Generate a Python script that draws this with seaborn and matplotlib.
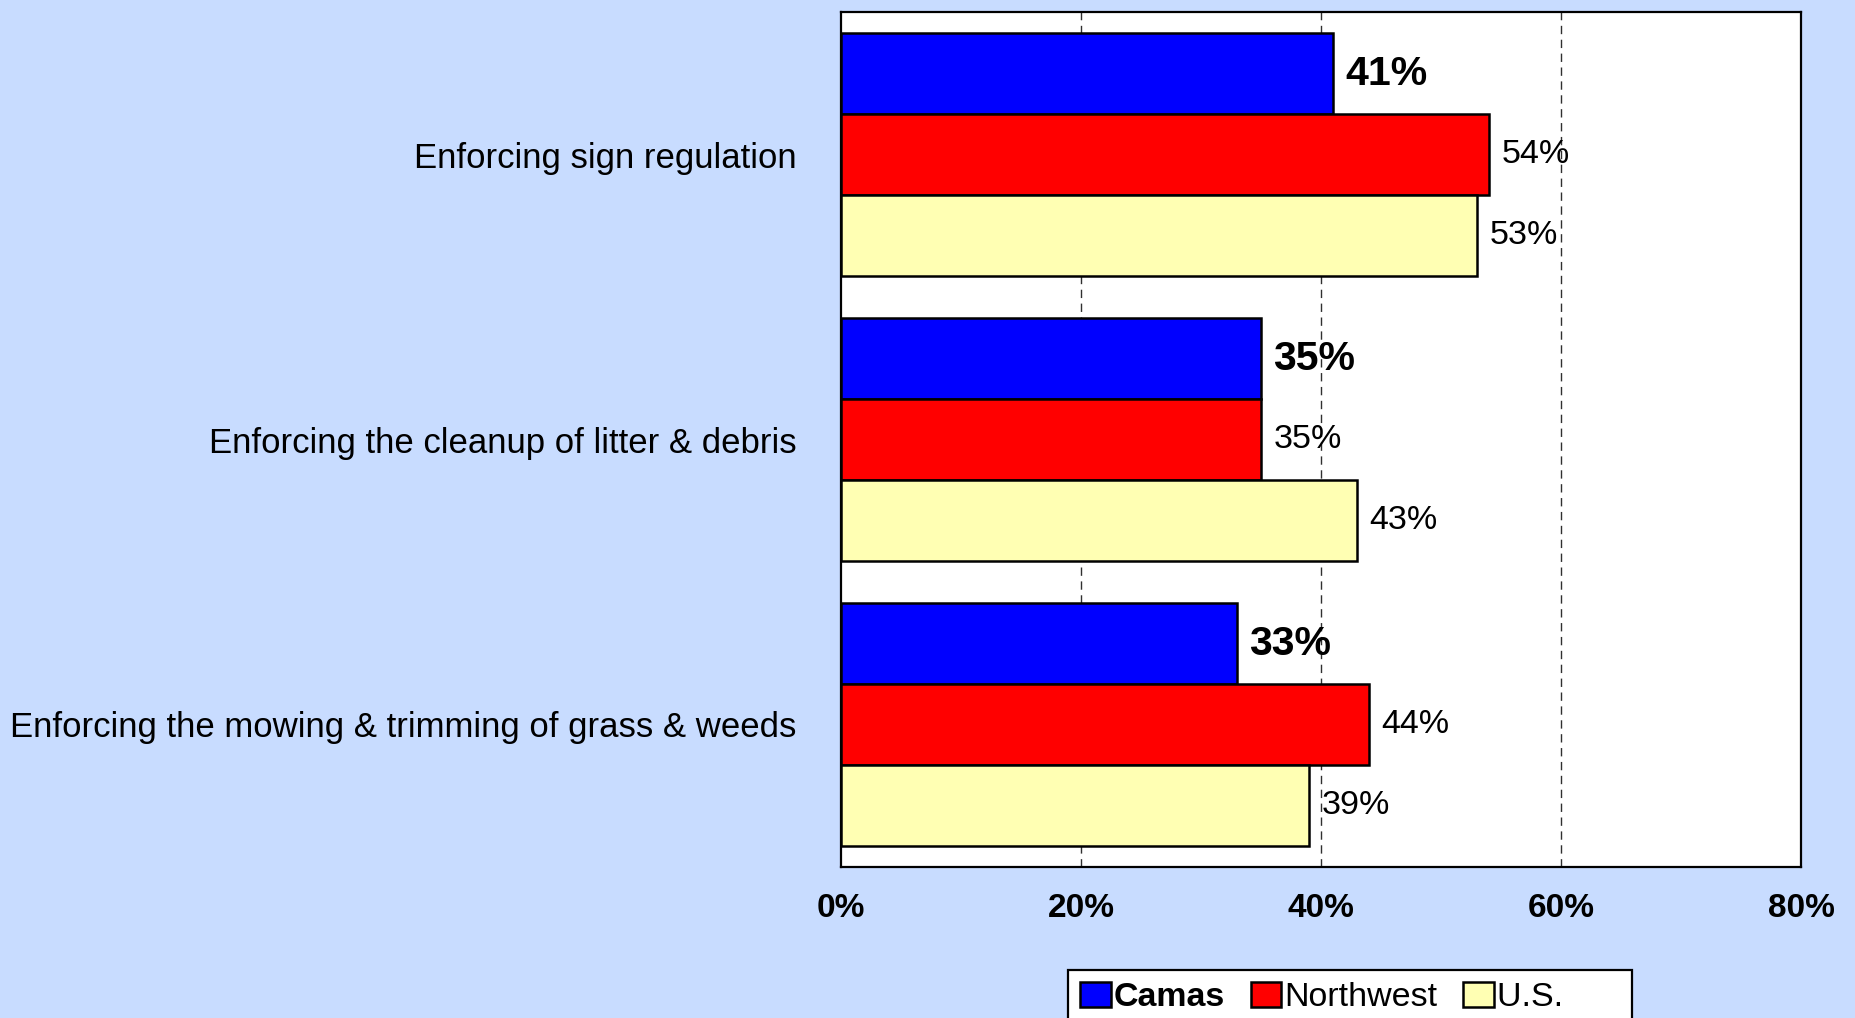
import matplotlib
matplotlib.use("Agg")
import matplotlib.pyplot as plt
import seaborn as sns
import pandas as pd

categories = ["Enforcing sign regulation",
              "Enforcing the cleanup of litter & debris",
              "Enforcing the mowing & trimming of grass & weeds"]
series_names = ["Camas", "Northwest", "U.S."]
camas = [41, 35, 33]
northwest = [54, 35, 44]
us = [53, 43, 39]
xticks = [0, 20, 40, 60, 80]
xtick_labels = ["0%", "20%", "40%", "60%", "80%"]
colors = ["#0000FF", "#FF0000", "#FFFFB3"]

sns.set_theme(style="white")
plt.rcParams['font.family'] = ['Liberation Sans', 'DejaVu Sans']
plt.rcParams['text.color'] = 'black'
plt.rcParams['xtick.color'] = 'black'
plt.rcParams['ytick.color'] = 'black'
plt.rcParams['axes.labelcolor'] = 'black'

rows = []
for s, vals in zip(series_names, [camas, northwest, us]):
    for c, v in zip(categories, vals):
        rows.append({"cat": c, "series": s, "value": v})
df = pd.DataFrame(rows)

bg = "#C8DCFF"
fig = plt.figure(figsize=(18.55, 10.18), dpi=100, facecolor=bg)
ax = fig.add_axes([841/1855, 1-867/1018, (1801-841)/1855, (867-12)/1018])
ax.set_facecolor("white")

sns.barplot(data=df, y="cat", x="value", hue="series", order=categories,
            hue_order=series_names, palette=colors, orient="h", width=0.85,
            saturation=1, edgecolor="black", linewidth=1.8, ax=ax, zorder=3)

ax.set_xlim(0, 80)
ax.set_ylim(2.5, -0.5)
ax.set_xticks(xticks)
ax.set_xticklabels(xtick_labels, fontsize=24, fontweight="bold", color="black")
ax.set_xlabel("")
ax.set_ylabel("")
ax.tick_params(axis="x", length=0, pad=19, labelcolor="black")
ax.tick_params(axis="y", length=0, pad=32, labelsize=25, labelcolor="black")

for x in [20, 40, 60]:
    ax.axvline(x, color="#303030", lw=1, ls=(0, (6, 4)), zorder=1)

for sp in ax.spines.values():
    sp.set_visible(True)
    sp.set_color("black")
    sp.set_linewidth(1.6)

for i, cont in enumerate(ax.containers):
    vals = [camas, northwest, us][i]
    labels = [f"{v}%" for v in vals]
    if i == 0:
        ax.bar_label(cont, labels=labels, padding=9, fontsize=29.5, fontweight="bold", color="black")
    else:
        ax.bar_label(cont, labels=labels, padding=9, fontsize=24.5, color="black")

handles, labels = ax.get_legend_handles_labels()
if ax.get_legend() is not None:
    ax.get_legend().remove()
labels = [l if l != "U.S." else "U.S.      " for l in labels]
leg = fig.legend(handles, labels, loc="upper left",
                 bbox_to_anchor=(1068/1855, 1-970/1018), ncol=3,
                 fontsize=24.5, frameon=True, fancybox=False, borderaxespad=0,
                 handlelength=0.9, handleheight=0.75, handletextpad=0.1,
                 columnspacing=0.75, borderpad=0.35)
leg.get_frame().set_edgecolor("black")
leg.get_frame().set_linewidth(1.6)
leg.get_frame().set_facecolor("white")
leg.get_frame().set_alpha(1)
for t in leg.get_texts():
    t.set_color("black")
    if t.get_text() == "Camas":
        t.set_fontweight("bold")
for h in leg.legend_handles:
    h.set_edgecolor("black")
    h.set_linewidth(1.8)

fig.savefig("out.png", dpi=100, facecolor=bg)
